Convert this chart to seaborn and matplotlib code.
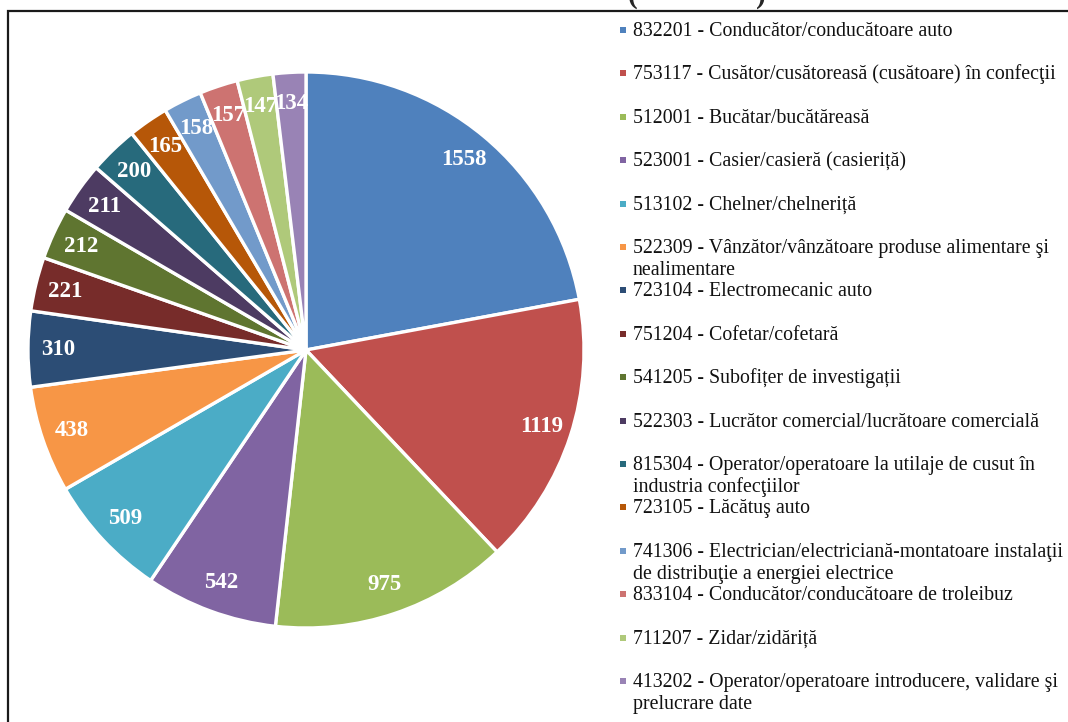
import matplotlib
matplotlib.use("Agg")
import matplotlib.pyplot as plt
from matplotlib.patches import Rectangle
import seaborn as sns

# ---- data ----
codes = ["832201", "753117", "512001", "523001", "513102", "522309", "723104", "751204",
         "541205", "522303", "815304", "723105", "741306", "833104", "711207", "413202"]
occupations = [
    "Conducător/conducătoare auto",
    "Cusător/cusătoreasă (cusătoare) în confecţii",
    "Bucătar/bucătăreasă",
    "Casier/casieră (casieriță)",
    "Chelner/chelneriță",
    "Vânzător/vânzătoare produse alimentare şi\nnealimentare",
    "Electromecanic auto",
    "Cofetar/cofetară",
    "Subofițer de investigații",
    "Lucrător comercial/lucrătoare comercială",
    "Operator/operatoare la utilaje de cusut în\nindustria confecţiilor",
    "Lăcătuş auto",
    "Electrician/electriciană-montatoare instalaţii\nde distribuţie a energiei electrice",
    "Conducător/conducătoare de troleibuz",
    "Zidar/zidăriță",
    "Operator/operatoare introducere, validare şi\nprelucrare date",
]
values = [1558, 1119, 975, 542, 509, 438, 310, 221, 212, 211, 200, 165, 158, 157, 147, 134]
colors = ["#4F81BD", "#C0504D", "#9BBB59", "#8064A2", "#4BACC6", "#F79646",
          "#2C4D75", "#772C2A", "#5F7530", "#4D3B62", "#276A7C", "#B65708",
          "#729ACA", "#CD7371", "#AFC97A", "#9983B5"]

sns.set_theme(style="white")
plt.rcParams["font.family"] = ["Liberation Serif", "DejaVu Serif"]

W, H = 1068, 722
fig = plt.figure(figsize=(W / 100, H / 100), dpi=100)
fig.patch.set_facecolor("white")

cx, cy, R = 306, 350, 278
ax = fig.add_axes([(cx - R) / W, (H - cy - R) / H, 2 * R / W, 2 * R / H])

palette = sns.color_palette(colors)
total = sum(values)
wedges, texts, autotexts = ax.pie(
    values,
    colors=palette,
    startangle=90,
    counterclock=False,
    radius=1.0,
    wedgeprops=dict(edgecolor="white", linewidth=2.4),
    autopct=lambda p: f"{round(p * total / 100)}",
    pctdistance=0.89,
    textprops=dict(color="white", fontsize=16.5, fontweight="bold"),
)
ax.set_xlim(-1, 1)
ax.set_ylim(-1, 1)
ax.set_aspect("equal")
ax.axis("off")

# outer frame (chart border, partly out of view)
fig.add_artist(Rectangle((7.5 / W, -0.2), 2.0, 1 - 11.5 / H + 0.2, transform=fig.transFigure,
                         fill=False, edgecolor="#1a1a1a", linewidth=1.6))

# cut-off title (only the bottom of the parentheses is visible)
fig.text(628 / W, 1 - 2.5 / H, "(", fontsize=21, fontweight="bold", ha="left", va="baseline")
fig.text(766 / W, 1 - 2.5 / H, ")", fontsize=21, fontweight="bold", ha="right", va="baseline")

# legend (manual, Excel-like spacing)
fs = 14.3
for i, (code, occ, col) in enumerate(zip(codes, occupations, colors)):
    yc = 30 + i * 43.4
    fig.add_artist(Rectangle(((623 - 3) / W, 1 - (yc + 3) / H), 6 / W, 6 / H,
                             transform=fig.transFigure, facecolor=col, edgecolor="none"))
    lines = f"{code} - {occ}".split("\n")
    for j, ln in enumerate(lines):
        yb = yc + 6 + j * 22
        fig.text(633 / W, 1 - yb / H, ln, fontsize=fs, ha="left", va="baseline", color="#111111")

fig.savefig("out.png", dpi=100)
